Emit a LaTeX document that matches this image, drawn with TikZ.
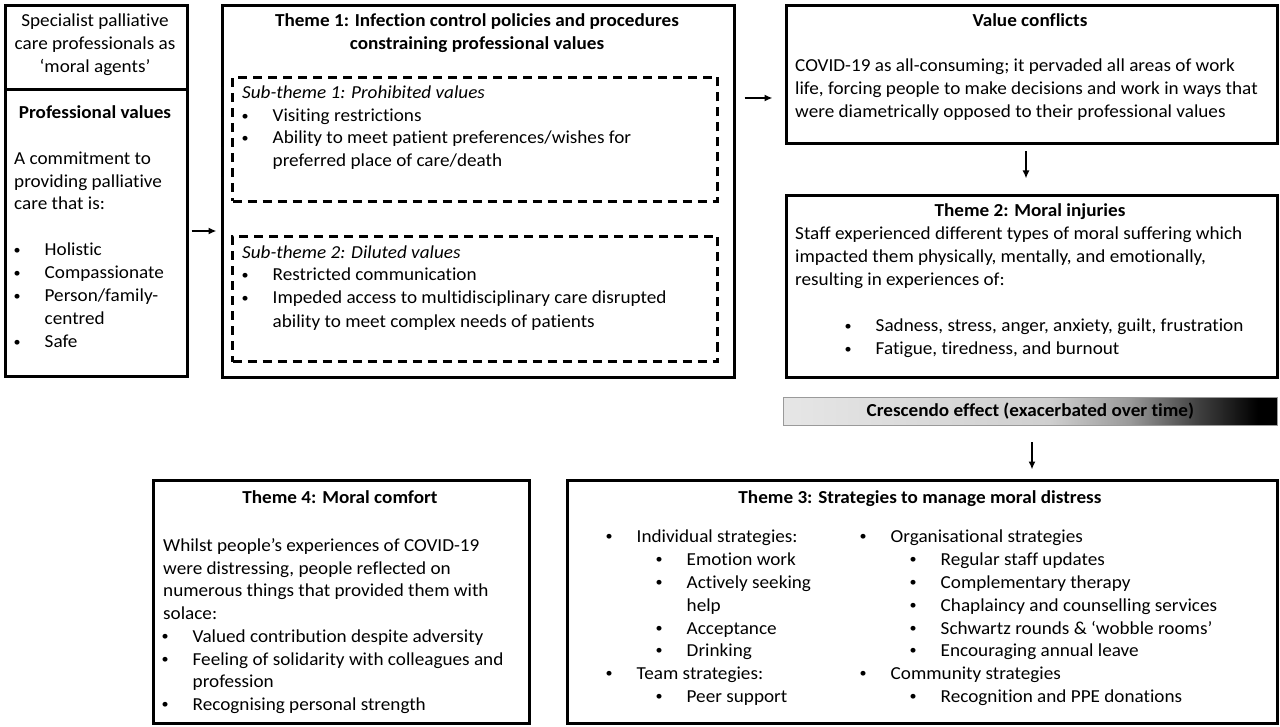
\documentclass[tikz,border=0pt]{standalone}
\usepackage{fontspec}
\setmainfont{Carlito}[FakeStretch=1.048, Ligatures={NoCommon}]
\usetikzlibrary{arrows.meta}
\definecolor{barl}{HTML}{E6E6E6}
\definecolor{barm}{HTML}{CFCFCF}
\definecolor{barn}{HTML}{9A9A9A}
\definecolor{baro}{HTML}{404040}
\definecolor{barframe}{HTML}{9A9A9A}
\pgfdeclarehorizontalshading{cresc}{100bp}{color(0bp)=(barl); color(25bp)=(barl); color(52bp)=(barm); color(60bp)=(barn); color(67bp)=(baro); color(73bp)=(black); color(100bp)=(black)}
\newcommand\bul[1][27.5]{\makebox[0pt]{\raisebox{1.4pt}{\fontsize{13.5}{13.5}\selectfont •}}\hspace{#1pt}}
\begin{document}
\begin{tikzpicture}[x=1pt,y=-1pt,
  font=\fontsize{18.3}{22.8}\selectfont,
  frame/.style={draw, line width=3pt, inner sep=0pt, anchor=north west},
  dframe/.style={frame, dash pattern=on 9pt off 6pt},
  tl/.style={inner sep=0pt, anchor=base west, yshift=-2pt},
  tc/.style={inner sep=0pt, anchor=base, yshift=-2pt},
  arr/.style={line width=2pt, -{Latex[length=8pt,width=7pt]}}]
\useasboundingbox (0,0) rectangle (1280,727);
% boxes
\node[frame, minimum width=182pt, minimum height=84pt] (lt) at (4,4) {};
\node[frame, minimum width=182pt, minimum height=287pt] (lb) at (4,88) {};
\node[frame, minimum width=512pt, minimum height=372pt] (t1) at (221,4) {};
\node[dframe, minimum width=485pt, minimum height=124pt] (sub1) at (231,76) {};
\node[dframe, minimum width=485pt, minimum height=125pt] (sub2) at (231,235) {};
\node[frame, minimum width=491pt, minimum height=138pt] (vc) at (785,4) {};
\node[frame, minimum width=491pt, minimum height=182pt] (th2) at (785,194) {};
\node[draw=barframe, line width=0.8pt, shading=cresc, inner sep=0pt, anchor=north west,
      minimum width=494pt, minimum height=28pt, font=\fontsize{18.3}{20}\selectfont\bfseries] (bar) at (783,397) {Crescendo effect (exacerbated over time)};
\node[frame, minimum width=376pt, minimum height=243pt] (th4) at (152,479) {};
\node[frame, minimum width=710pt, minimum height=243pt] (th3) at (566,479) {};
% connectors
\coordinate (ya) at (0,231);
\coordinate (yb) at (0,98);
\coordinate (xc) at (1026,0);
\coordinate (xd) at (1032,0);
\draw[arr, shorten <=2.5pt, shorten >=4.5pt] (lb.east |- ya) -- (t1.west |- ya);
\draw[arr, shorten <=8.5pt, shorten >=12.5pt] (t1.east |- yb) -- (vc.west |- yb);
\draw[arr, shorten <=6.5pt, shorten >=15.5pt] (xc |- vc.south) -- (xc |- th2.north);
\draw[arr, shorten <=16.6pt, shorten >=9.5pt] (xd |- bar.south) -- (xd |- th3.north);
% left top
\node[tc] (lt1) at (95,25) {Specialist palliative};
\node[tc] (lt2) at (95,48) {care professionals as};
\node[tc] (lt3) at (95,71) {‘moral agents’};
% left bottom
\node[tc] (lb0) at (95,117) {\bfseries Professional values};
\node[tl] (lb1) at (14,163) {A commitment to};
\node[tl] (lb2) at (14,186) {providing palliative};
\node[tl] (lb3) at (14,208) {care that is:};
\node[tl] (lb4) at (17,254) {\bul Holistic};
\node[tl] (lb5) at (17,277) {\bul Compassionate};
\node[tl] (lb6) at (17,300) {\bul Person/family-};
\node[tl] (lb7) at (44.5,323) {centred};
\node[tl] (lb8) at (17,346) {\bul Safe};
% theme 1
\node[tc] (t1a) at (477,25) {\bfseries Theme 1: Infection control policies and procedures};
\node[tc] (t1b) at (477,48) {\bfseries constraining professional values};
\node[tl] (s1a) at (242,97) {\itshape Sub-theme 1: Prohibited values};
\node[tl] (s1b) at (245,120) {\bul Visiting restrictions};
\node[tl] (s1c) at (245,142) {\bul Ability to meet patient preferences/wishes for};
\node[tl] (s1d) at (272.5,165) {preferred place of care/death};
\node[tl] (s2a) at (242,257) {\itshape Sub-theme 2: Diluted values};
\node[tl] (s2b) at (245,279) {\bul Restricted communication};
\node[tl] (s2c) at (245,302) {\bul Impeded access to multidisciplinary care disrupted};
\node[tl] (s2d) at (272.5,325) {ability to meet complex needs of patients};
% value conflicts
\node[tc] (vc0) at (1030,25) {\bfseries Value conflicts};
\node[tl] (vc1) at (795,70) {COVID-19 as all-consuming; it pervaded all areas of work};
\node[tl] (vc2) at (795,93) {life, forcing people to make decisions and work in ways that};
\node[tl] (vc3) at (795,116) {were diametrically opposed to their professional values};
% theme 2
\node[tc] (m0) at (1030,215) {\bfseries Theme 2: Moral injuries};
\node[tl] (m1) at (795,238) {Staff experienced different types of moral suffering which};
\node[tl] (m2) at (795,261) {impacted them physically, mentally, and emotionally,};
\node[tl] (m3) at (795,284) {resulting in experiences of:};
\node[tl] (m4) at (848,330) {\bul Sadness, stress, anger, anxiety, guilt, frustration};
\node[tl] (m5) at (848,353) {\bul Fatigue, tiredness, and burnout};
% theme 4
\node[tc] (c0) at (340,501) {\bfseries Theme 4: Moral comfort};
\node[tl] (c1) at (163,549) {Whilst people’s experiences of COVID-19};
\node[tl] (c2) at (163,572) {were distressing, people reflected on};
\node[tl] (c3) at (163,594) {numerous things that provided them with};
\node[tl] (c4) at (163,617) {solace:};
\node[tl] (c5) at (165,640) {\bul Valued contribution despite adversity};
\node[tl] (c6) at (165,663) {\bul Feeling of solidarity with colleagues and};
\node[tl] (c7) at (192.5,685) {profession};
\node[tl] (c8) at (165,708) {\bul Recognising personal strength};
% theme 3
\node[tc] (d0) at (920,501) {\bfseries Theme 3: Strategies to manage moral distress};
\node[tl] (d1) at (609,540) {\bul Individual strategies:};
\node[tl] (d2) at (659,563) {\bul Emotion work};
\node[tl] (d3) at (659,586) {\bul Actively seeking};
\node[tl] (d4) at (686.5,609) {help};
\node[tl] (d5) at (659,632) {\bul Acceptance};
\node[tl] (d6) at (659,654) {\bul Drinking};
\node[tl] (d7) at (609,677) {\bul Team strategies:};
\node[tl] (d8) at (659,700) {\bul Peer support};
\node[tl] (e1) at (863,540) {\bul Organisational strategies};
\node[tl] (e2) at (913,563) {\bul Regular staff updates};
\node[tl] (e3) at (913,586) {\bul Complementary therapy};
\node[tl] (e4) at (913,609) {\bul Chaplaincy and counselling services};
\node[tl] (e5) at (913,632) {\bul Schwartz rounds \& ‘wobble rooms’};
\node[tl] (e6) at (913,654) {\bul Encouraging annual leave};
\node[tl] (e7) at (863,677) {\bul Community strategies};
\node[tl] (e8) at (913,700) {\bul Recognition and PPE donations};
\end{tikzpicture}
\end{document}
